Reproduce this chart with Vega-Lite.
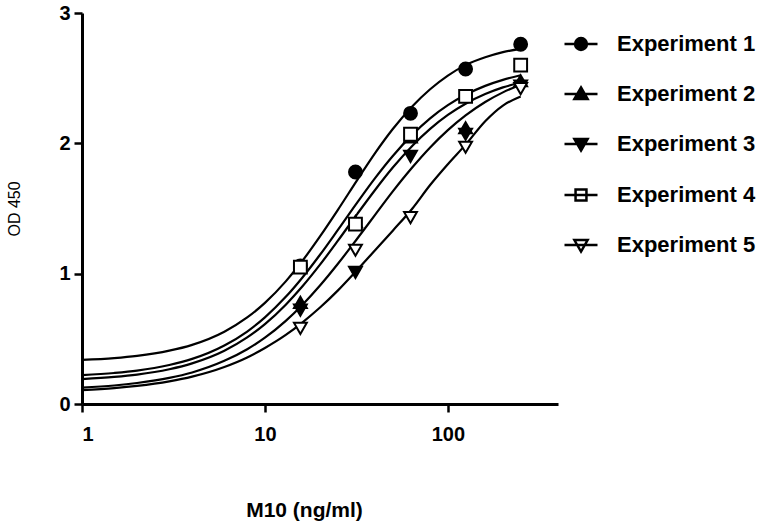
{
  "$schema": "https://vega.github.io/schema/vega-lite/v6.json",
  "width": 476,
  "height": 391,
  "autosize": {"type": "none"},
  "padding": {"left": 82, "top": 13, "right": 212, "bottom": 125},
  "background": "white",
  "config": {
    "view": {"stroke": null},
    "font": "Liberation Sans",
    "axis": {"grid": false, "domainColor": "black", "tickColor": "black", "labelColor": "black", "titleColor": "black", "domainWidth": 3, "tickWidth": 2.5, "tickSize": 8}
  },
  "datasets": {
    "curves": [
      {"series": "Experiment 1", "x": 1, "y": 0.338}, {"series": "Experiment 1", "x": 1.5, "y": 0.352}, {"series": "Experiment 1", "x": 2, "y": 0.369}, {"series": "Experiment 1", "x": 3, "y": 0.409}, {"series": "Experiment 1", "x": 4, "y": 0.454}, {"series": "Experiment 1", "x": 6, "y": 0.555}, {"series": "Experiment 1", "x": 8, "y": 0.664}, {"series": "Experiment 1", "x": 10, "y": 0.776}, {"series": "Experiment 1", "x": 13, "y": 0.941}, {"series": "Experiment 1", "x": 16, "y": 1.097}, {"series": "Experiment 1", "x": 20, "y": 1.286}, {"series": "Experiment 1", "x": 25, "y": 1.488}, {"series": "Experiment 1", "x": 32, "y": 1.72}, {"series": "Experiment 1", "x": 40, "y": 1.925}, {"series": "Experiment 1", "x": 50, "y": 2.11}, {"series": "Experiment 1", "x": 64, "y": 2.285}, {"series": "Experiment 1", "x": 80, "y": 2.415}, {"series": "Experiment 1", "x": 100, "y": 2.52}, {"series": "Experiment 1", "x": 125, "y": 2.6}, {"series": "Experiment 1", "x": 160, "y": 2.66}, {"series": "Experiment 1", "x": 200, "y": 2.7}, {"series": "Experiment 1", "x": 250, "y": 2.725},
      {"series": "Experiment 2", "x": 1, "y": 0.191}, {"series": "Experiment 2", "x": 1.5, "y": 0.208}, {"series": "Experiment 2", "x": 2, "y": 0.226}, {"series": "Experiment 2", "x": 3, "y": 0.267}, {"series": "Experiment 2", "x": 4, "y": 0.312}, {"series": "Experiment 2", "x": 6, "y": 0.409}, {"series": "Experiment 2", "x": 8, "y": 0.511}, {"series": "Experiment 2", "x": 10, "y": 0.613}, {"series": "Experiment 2", "x": 13, "y": 0.762}, {"series": "Experiment 2", "x": 16, "y": 0.901}, {"series": "Experiment 2", "x": 20, "y": 1.069}, {"series": "Experiment 2", "x": 25, "y": 1.251}, {"series": "Experiment 2", "x": 32, "y": 1.459}, {"series": "Experiment 2", "x": 40, "y": 1.642}, {"series": "Experiment 2", "x": 50, "y": 1.814}, {"series": "Experiment 2", "x": 64, "y": 1.982}, {"series": "Experiment 2", "x": 80, "y": 2.111}, {"series": "Experiment 2", "x": 100, "y": 2.218}, {"series": "Experiment 2", "x": 125, "y": 2.304}, {"series": "Experiment 2", "x": 160, "y": 2.378}, {"series": "Experiment 2", "x": 200, "y": 2.429}, {"series": "Experiment 2", "x": 250, "y": 2.467},
      {"series": "Experiment 3", "x": 1, "y": 0.125}, {"series": "Experiment 3", "x": 1.5, "y": 0.142}, {"series": "Experiment 3", "x": 2, "y": 0.161}, {"series": "Experiment 3", "x": 3, "y": 0.2}, {"series": "Experiment 3", "x": 4, "y": 0.242}, {"series": "Experiment 3", "x": 6, "y": 0.331}, {"series": "Experiment 3", "x": 8, "y": 0.42}, {"series": "Experiment 3", "x": 10, "y": 0.509}, {"series": "Experiment 3", "x": 13, "y": 0.638}, {"series": "Experiment 3", "x": 16, "y": 0.76}, {"series": "Experiment 3", "x": 20, "y": 0.909}, {"series": "Experiment 3", "x": 25, "y": 1.074}, {"series": "Experiment 3", "x": 32, "y": 1.27}, {"series": "Experiment 3", "x": 40, "y": 1.451}, {"series": "Experiment 3", "x": 50, "y": 1.631}, {"series": "Experiment 3", "x": 64, "y": 1.816}, {"series": "Experiment 3", "x": 80, "y": 1.968}, {"series": "Experiment 3", "x": 100, "y": 2.101}, {"series": "Experiment 3", "x": 125, "y": 2.214}, {"series": "Experiment 3", "x": 160, "y": 2.317}, {"series": "Experiment 3", "x": 200, "y": 2.391}, {"series": "Experiment 3", "x": 250, "y": 2.45},
      {"series": "Experiment 4", "x": 1, "y": 0.221}, {"series": "Experiment 4", "x": 1.5, "y": 0.238}, {"series": "Experiment 4", "x": 2, "y": 0.256}, {"series": "Experiment 4", "x": 3, "y": 0.299}, {"series": "Experiment 4", "x": 4, "y": 0.346}, {"series": "Experiment 4", "x": 6, "y": 0.449}, {"series": "Experiment 4", "x": 8, "y": 0.556}, {"series": "Experiment 4", "x": 10, "y": 0.665}, {"series": "Experiment 4", "x": 13, "y": 0.822}, {"series": "Experiment 4", "x": 16, "y": 0.969}, {"series": "Experiment 4", "x": 20, "y": 1.145}, {"series": "Experiment 4", "x": 25, "y": 1.334}, {"series": "Experiment 4", "x": 32, "y": 1.547}, {"series": "Experiment 4", "x": 40, "y": 1.733}, {"series": "Experiment 4", "x": 50, "y": 1.903}, {"series": "Experiment 4", "x": 64, "y": 2.067}, {"series": "Experiment 4", "x": 80, "y": 2.192}, {"series": "Experiment 4", "x": 100, "y": 2.293}, {"series": "Experiment 4", "x": 125, "y": 2.373}, {"series": "Experiment 4", "x": 160, "y": 2.441}, {"series": "Experiment 4", "x": 200, "y": 2.487}, {"series": "Experiment 4", "x": 250, "y": 2.522},
      {"series": "Experiment 5", "x": 1, "y": 0.106}, {"series": "Experiment 5", "x": 1.5, "y": 0.122}, {"series": "Experiment 5", "x": 2, "y": 0.139}, {"series": "Experiment 5", "x": 3, "y": 0.174}, {"series": "Experiment 5", "x": 4, "y": 0.21}, {"series": "Experiment 5", "x": 6, "y": 0.284}, {"series": "Experiment 5", "x": 8, "y": 0.357}, {"series": "Experiment 5", "x": 10, "y": 0.43}, {"series": "Experiment 5", "x": 13, "y": 0.53}, {"series": "Experiment 5", "x": 16, "y": 0.625}, {"series": "Experiment 5", "x": 20, "y": 0.74}, {"series": "Experiment 5", "x": 25, "y": 0.87}, {"series": "Experiment 5", "x": 32, "y": 1.03}, {"series": "Experiment 5", "x": 40, "y": 1.18}, {"series": "Experiment 5", "x": 50, "y": 1.33}, {"series": "Experiment 5", "x": 64, "y": 1.5}, {"series": "Experiment 5", "x": 80, "y": 1.68}, {"series": "Experiment 5", "x": 100, "y": 1.84}, {"series": "Experiment 5", "x": 125, "y": 1.99}, {"series": "Experiment 5", "x": 160, "y": 2.17}, {"series": "Experiment 5", "x": 200, "y": 2.29}, {"series": "Experiment 5", "x": 250, "y": 2.36}
    ],
    "points": [
      {"series": "Experiment 1", "x": 15.625, "y": 1.06}, {"series": "Experiment 1", "x": 31.25, "y": 1.78}, {"series": "Experiment 1", "x": 62.5, "y": 2.23}, {"series": "Experiment 1", "x": 125, "y": 2.57}, {"series": "Experiment 1", "x": 250, "y": 2.76},
      {"series": "Experiment 2", "x": 15.625, "y": 0.78}, {"series": "Experiment 2", "x": 31.25, "y": 1.4}, {"series": "Experiment 2", "x": 62.5, "y": 2.05}, {"series": "Experiment 2", "x": 125, "y": 2.12}, {"series": "Experiment 2", "x": 250, "y": 2.48},
      {"series": "Experiment 3", "x": 15.625, "y": 0.72}, {"series": "Experiment 3", "x": 31.25, "y": 1.01}, {"series": "Experiment 3", "x": 62.5, "y": 1.9}, {"series": "Experiment 3", "x": 125, "y": 2.07}, {"series": "Experiment 3", "x": 250, "y": 2.44},
      {"series": "Experiment 5", "x": 15.625, "y": 0.58}, {"series": "Experiment 5", "x": 31.25, "y": 1.18}, {"series": "Experiment 5", "x": 62.5, "y": 1.43}, {"series": "Experiment 5", "x": 125, "y": 1.97}, {"series": "Experiment 5", "x": 250, "y": 2.42},
      {"series": "Experiment 4", "x": 15.625, "y": 1.05}, {"series": "Experiment 4", "x": 31.25, "y": 1.38}, {"series": "Experiment 4", "x": 62.5, "y": 2.07}, {"series": "Experiment 4", "x": 125, "y": 2.36}, {"series": "Experiment 4", "x": 250, "y": 2.6}
    ]
  },
  "layer": [
    {
      "data": {"name": "curves"},
      "mark": {"type": "line", "color": "black", "strokeWidth": 2.2, "interpolate": "monotone"},
      "encoding": {
        "x": {"field": "x", "type": "quantitative", "scale": {"type": "log", "domain": [1, 400], "nice": false},
          "axis": {"values": [1, 10, 100], "format": "d", "labelFontWeight": "bold", "labelFontSize": 20, "labelPadding": 12, "title": "M10 (ng/ml)", "titleFontWeight": "bold", "titleFontSize": 21, "titlePadding": 55, "titleX": 222}},
        "y": {"field": "y", "type": "quantitative", "scale": {"domain": [0, 3], "nice": false},
          "axis": {"values": [0, 1, 2, 3], "format": "d", "labelFontWeight": "bold", "labelFontSize": 20, "labelPadding": 4, "title": "OD 450", "titleFontWeight": "normal", "titleFontSize": 16, "titlePadding": 36}},
        "detail": {"field": "series", "type": "nominal"}
      }
    },
    {
      "data": {"name": "points"},
      "mark": {"type": "point", "filled": true, "stroke": "black", "strokeWidth": 2, "size": 165, "opacity": 1},
      "encoding": {
        "x": {"field": "x", "type": "quantitative"},
        "y": {"field": "y", "type": "quantitative"},
        "shape": {"field": "series", "type": "nominal", "legend": null,
          "scale": {"domain": ["Experiment 1", "Experiment 2", "Experiment 3", "Experiment 4", "Experiment 5"], "range": ["circle", "triangle-up", "triangle-down", "square", "triangle-down"]}},
        "fill": {"field": "series", "type": "nominal", "legend": null,
          "scale": {"domain": ["Experiment 1", "Experiment 2", "Experiment 3", "Experiment 4", "Experiment 5"], "range": ["black", "black", "black", "white", "white"]}}
      }
    },
    {
      "data": {"name": "points"},
      "mark": {"type": "point", "filled": true, "strokeWidth": 2.5, "size": 165, "opacity": 0},
      "encoding": {
        "x": {"field": "x", "type": "quantitative"},
        "y": {"field": "y", "type": "quantitative"},
        "shape": {"field": "series", "type": "nominal",
          "scale": {"domain": ["Experiment 1", "Experiment 2", "Experiment 3", "Experiment 4", "Experiment 5"], "range": ["M-1,0H1M0.36,0A0.36,0.36,0,1,1,-0.36,0A0.36,0.36,0,1,1,0.36,0Z", "M-1,0H1M0,-0.4L0.4,0.3L-0.4,0.3Z", "M-1,0H1M0,0.4L0.4,-0.3L-0.4,-0.3Z", "M-1,0H1M-0.33,-0.33H0.33V0.33H-0.33Z", "M-1,0H1M0,0.4L0.4,-0.3L-0.4,-0.3Z"]},
          "legend": {
            "title": null, "orient": "none", "legendX": 481, "legendY": 13, "padding": 0,
            "symbolSize": 1089, "symbolStrokeWidth": 2.5, "symbolOpacity": 1,
            "rowPadding": 21, "labelOffset": 18, "labelFontWeight": "bold", "labelFontSize": 22, "labelColor": "black", "labelLimit": 300
          }},
        "fill": {"field": "series", "type": "nominal",
          "scale": {"domain": ["Experiment 1", "Experiment 2", "Experiment 3", "Experiment 4", "Experiment 5"], "range": ["black", "black", "black", "white", "white"]}},
        "stroke": {"field": "series", "type": "nominal",
          "scale": {"domain": ["Experiment 1", "Experiment 2", "Experiment 3", "Experiment 4", "Experiment 5"], "range": ["black", "black", "black", "black", "black"]}}
      }
    }
  ],
  "resolve": {"scale": {"shape": "independent", "fill": "independent", "stroke": "independent"}, "legend": {"shape": "independent", "fill": "independent", "stroke": "independent"}}
}
